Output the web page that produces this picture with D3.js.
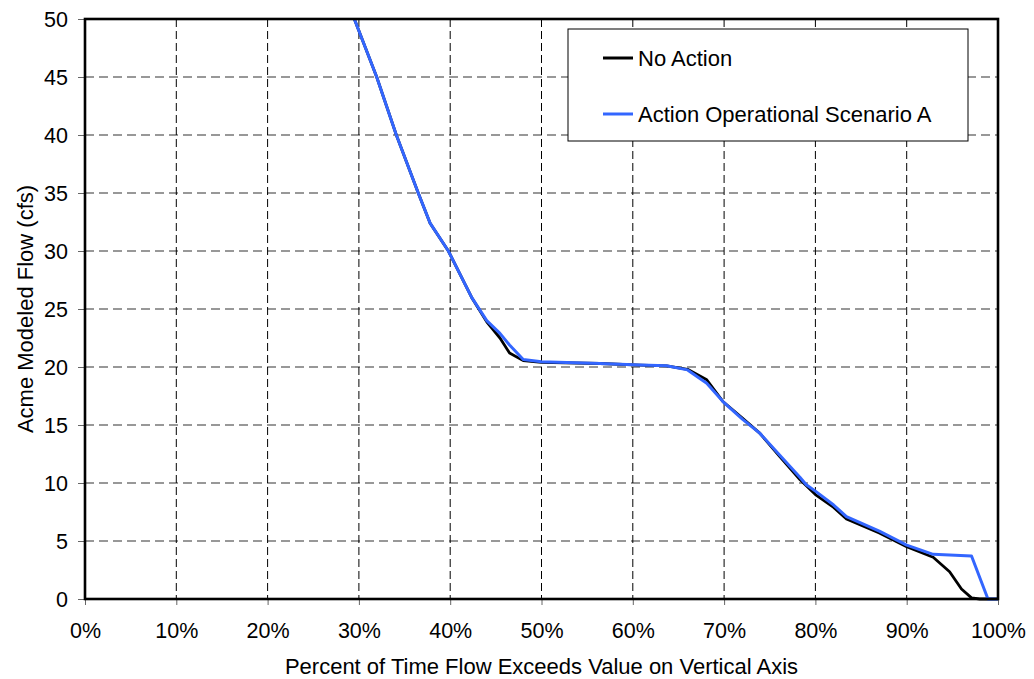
<!DOCTYPE html>
<html>
<head>
<meta charset="utf-8">
<script src="https://cdn.jsdelivr.net/npm/d3@7"></script>
<style>
  html, body { margin: 0; padding: 0; background: #fff; }
  svg { display: block; font-family: "Liberation Sans", Arial, sans-serif; }
</style>
</head>
<body>
<svg id="chart" width="1034" height="679"></svg>
<script>
// ---- Data ----
const xTicks = [0, 10, 20, 30, 40, 50, 60, 70, 80, 90, 100];
const yTicks = [0, 5, 10, 15, 20, 25, 30, 35, 40, 45, 50];

const noActionX = [29.5, 31.95, 34.1, 36.5, 37.8, 39.8, 42.35, 44, 45.45, 46.5, 48, 50, 56.4, 60.8, 63.7, 66, 68.1, 69.9, 72, 73.9, 76.1, 78.3, 80, 82, 83.4, 87, 90, 92.9, 94.7, 96, 97.1, 98, 100];
const noActionY = [50, 45, 40, 35, 32.4, 30, 26, 23.9, 22.5, 21.2, 20.55, 20.4, 20.3, 20.17, 20.1, 19.8, 18.9, 17.0, 15.6, 14.3, 12.27, 10.3, 9.0, 7.9, 6.9, 5.7, 4.5, 3.6, 2.35, 0.86, 0.1, 0, 0];

const actionX = [29.5, 31.95, 34.1, 36.5, 37.8, 39.8, 42.35, 44, 45.45, 46.5, 48, 50, 56.4, 60.8, 63.7, 66, 68.1, 69.9, 72, 73.9, 76.1, 78.3, 79, 80, 82, 83.4, 87, 90, 92.9, 97.1, 98.9, 100];
const actionY = [50, 45, 40, 35, 32.4, 30, 26, 24.0, 22.9, 21.9, 20.65, 20.45, 20.3, 20.17, 20.1, 19.75, 18.6, 17.0, 15.5, 14.3, 12.4, 10.5, 9.85, 9.3, 8.1, 7.1, 5.85, 4.65, 3.85, 3.7, 0, 0];

const seriesNames = ["No Action", "Action Operational Scenario A"];
const seriesColors = ["#000000", "#3366ff"];

// ---- Layout ----
const L = 85, R = 998, T = 19, B = 599;
const svg = d3.select("#chart");
const x = d3.scaleLinear().domain([0, 100]).range([L, R]);
const y = d3.scaleLinear().domain([0, 50]).range([B, T]);

// Gridlines
svg.append("g").selectAll("line").data(yTicks.filter(d => d > 0 && d < 50)).join("line")
  .attr("x1", L).attr("x2", R).attr("y1", d => y(d)).attr("y2", d => y(d))
  .attr("stroke", "#777").attr("stroke-width", 1.3).attr("stroke-dasharray", "9,5");
svg.append("g").selectAll("line").data(xTicks.filter(d => d > 0 && d < 100)).join("line")
  .attr("y1", T).attr("y2", B).attr("x1", d => x(d)).attr("x2", d => x(d))
  .attr("stroke", "#000").attr("stroke-width", 1).attr("stroke-dasharray", "8,4");

// Axes
const xAxis = d3.axisBottom(x).tickValues(xTicks).tickFormat(d => d + "%").tickSize(6).tickPadding(18);
const gx = svg.append("g").attr("transform", `translate(0,${B})`).call(xAxis);
const yAxis = d3.axisLeft(y).tickValues(yTicks).tickSize(7).tickPadding(10);
const gy = svg.append("g").attr("transform", `translate(${L},0)`).call(yAxis);
[gx, gy].forEach(g => {
  g.select(".domain").remove();
  g.selectAll(".tick line").attr("stroke", "#666");
  g.selectAll(".tick text").attr("fill", "#000").style("font-size", "21.5px")
    .style("font-family", "'Liberation Sans', Arial, sans-serif");
});
gy.selectAll(".tick text").attr("dy", "0.36em");
gx.selectAll(".tick text").attr("dy", "0.71em");

// Lines
const line = d3.line().x(d => x(d[0])).y(d => y(d[1]));
const noAction = noActionX.map((v, i) => [v, noActionY[i]]);
const action = actionX.map((v, i) => [v, actionY[i]]);
svg.append("path").datum(noAction).attr("d", line).attr("fill", "none")
  .attr("stroke", seriesColors[0]).attr("stroke-width", 2.8).attr("stroke-linejoin", "round");
svg.append("path").datum(action).attr("d", line).attr("fill", "none")
  .attr("stroke", seriesColors[1]).attr("stroke-width", 3).attr("stroke-linejoin", "round");

// Frame
svg.append("rect").attr("x", L).attr("y", T).attr("width", R - L).attr("height", B - T)
  .attr("fill", "none").attr("stroke", "#000").attr("stroke-width", 2.6);

// Axis titles
svg.append("text").attr("x", (L + R) / 2).attr("y", 674).attr("text-anchor", "middle")
  .style("font-size", "22px").text("Percent of Time Flow Exceeds Value on Vertical Axis");
svg.append("text").attr("transform", `translate(33,${(T + B) / 2}) rotate(-90)`).attr("text-anchor", "middle")
  .style("font-size", "22px").text("Acme Modeled Flow (cfs)");

// Legend
const lg = svg.append("g");
lg.append("rect").attr("x", 568).attr("y", 29).attr("width", 400).attr("height", 112)
  .attr("fill", "#fff").attr("stroke", "#000").attr("stroke-width", 1);
const rowsY = [58, 114];
seriesNames.forEach((name, i) => {
  lg.append("line").attr("x1", 603).attr("x2", 633).attr("y1", rowsY[i]).attr("y2", rowsY[i])
    .attr("stroke", seriesColors[i]).attr("stroke-width", 3);
  lg.append("text").attr("x", 638).attr("y", rowsY[i] + 8).style("font-size", "22px").text(name);
});
</script>
</body>
</html>
